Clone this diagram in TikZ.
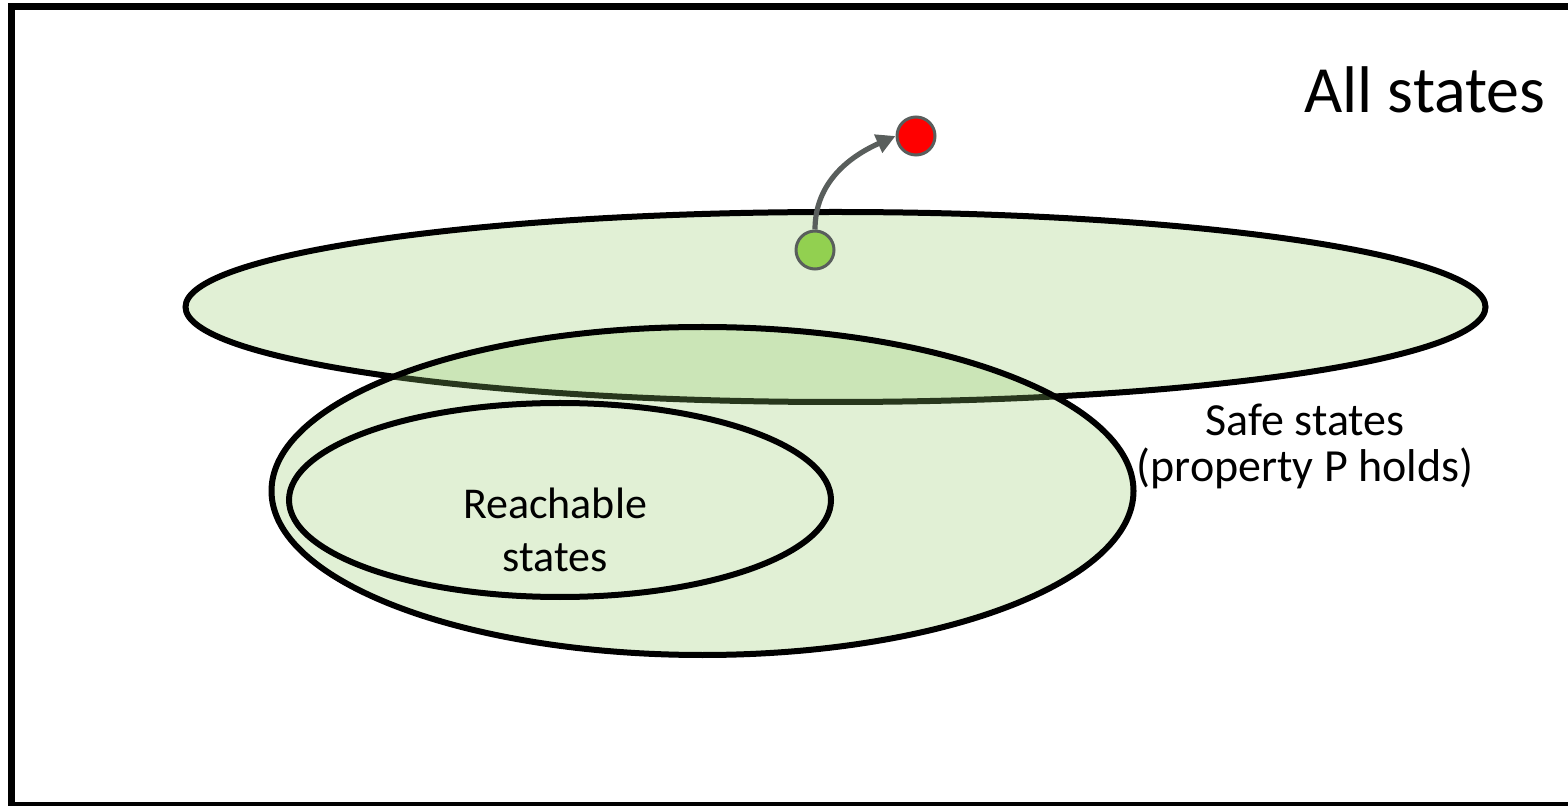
\documentclass[tikz,border=0pt]{standalone}
\usepackage{fontspec}
\setmainfont{Carlito}
\usetikzlibrary{shapes.geometric,arrows.meta}
\definecolor{setgreen}{RGB}{146,201,105}
\definecolor{dotgreen}{RGB}{146,208,80}
\definecolor{dotgray}{RGB}{89,94,92}
\tikzset{
  setell/.style={ellipse, draw=black, line width=3pt, inner sep=0pt,
    fill=setgreen, fill opacity=0.28, draw opacity=1},
  plainell/.style={ellipse, draw=black, line width=3pt, inner sep=0pt},
  statedot/.style={circle, draw=dotgray, line width=1.5pt, minimum size=19pt, inner sep=0pt},
  trans/.style={draw=dotgray, line width=2.6pt, -{Triangle[length=9.5pt,width=9.5pt]}},
  lbl/.style={align=center, inner sep=0pt}
}
\begin{document}
\begin{tikzpicture}[x=0.5pt,y=-0.5pt]
\useasboundingbox (0,0) rectangle (1568,806);
\clip (0,0) rectangle (1568,806);
\draw[line width=3.5pt] (11.5,6.5) rectangle (1590,805);
\node[setell, minimum width=650pt, minimum height=95pt] (safe) at (835.5,307) {};
\node[setell, minimum width=431pt, minimum height=164pt] (inv) at (702.5,491) {};
\node[plainell, minimum width=271pt, minimum height=97pt] (reach) at (560,500) {};
\node[statedot, fill=dotgreen] (g) at (815,250) {};
\node[statedot, fill=red] (r) at (916,136) {};
\draw[trans] (g.north) to[out=90,in=204] (r.west);
\node[font=\fontsize{33}{36}\selectfont, anchor=base, inner sep=0pt] (all) at (1425,113) {All states};
\node[lbl, font=\fontsize{23}{23}\selectfont] (safelbl) at (1305,446) {Safe states\\(property P holds)};
\node[lbl, font=\fontsize{22}{26.5}\selectfont] (reachlbl) at (555,530) {Reachable\\states};
\end{tikzpicture}
\end{document}
